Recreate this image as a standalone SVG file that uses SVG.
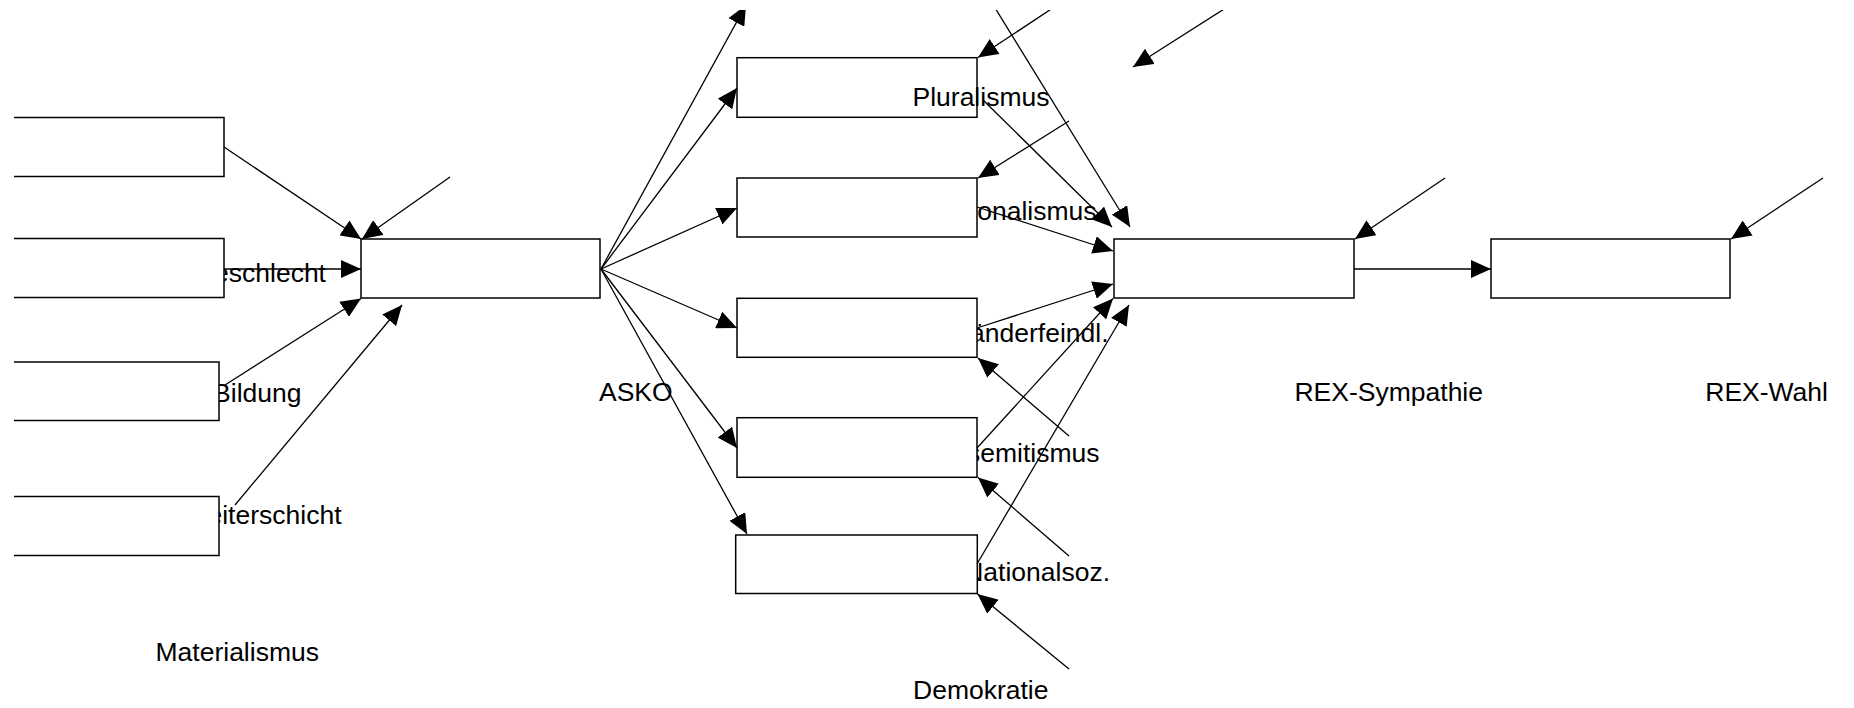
<svg xmlns="http://www.w3.org/2000/svg" width="1854" height="708" viewBox="0 0 1854 708">
  <style>
    .box { fill: #ffffff; stroke: #000000; stroke-width: 1.5; }
    .lbl { font-family: "Liberation Sans", Arial, sans-serif; font-size: 26.5px; fill: #000000; }
    .end { text-anchor: end; }
    .con line { stroke: #000000; stroke-width: 1.3; fill: none; marker-end: url(#arr); }
  </style>
  <defs>
    <marker id="arr" markerUnits="userSpaceOnUse" markerWidth="20" markerHeight="18" refX="20" refY="9" orient="auto">
      <path d="M0,0 L20,9 L0,18 Z" fill="#000000"/>
    </marker>
    <clipPath id="clip">
      <rect x="14" y="10" width="1840" height="698"/>
    </clipPath>
  </defs>
  <rect width="1854" height="708" fill="#ffffff"/>
  <g clip-path="url(#clip)">
    <g id="node-materialismus">
      <rect class="box" x="-20" y="117.5" width="244" height="59"/>
      <text class="lbl" x="155.5" y="661">Materialismus</text>
    </g>
    <g id="node-geschlecht">
      <text class="lbl end" x="326" y="281.5">Geschlecht</text>
      <rect class="box" x="-20" y="238.5" width="244" height="59"/>
    </g>
    <g id="node-bildung">
      <text class="lbl end" x="301.5" y="401.5">Bildung</text>
      <rect class="box" x="-20" y="362" width="239" height="58.5"/>
    </g>
    <g id="node-arbeiterschicht">
      <text class="lbl end" x="341.5" y="523.5">Arbeiterschicht</text>
      <rect class="box" x="-20" y="496.5" width="239" height="59"/>
    </g>
    <g id="node-asko">
      <rect class="box" x="361" y="239" width="239" height="59"/>
      <text class="lbl" x="599" y="401">ASKO</text>
    </g>
    <g id="node-pluralismus">
      <rect class="box" x="737" y="57.7" width="240" height="59.6"/>
      <text class="lbl" x="912.5" y="105.5">Pluralismus</text>
    </g>
    <g id="node-nationalismus">
      <text class="lbl end" x="1096.5" y="220">Nationalismus</text>
      <rect class="box" x="737" y="178" width="240" height="59"/>
    </g>
    <g id="node-auslaenderfeindl">
      <text class="lbl end" x="1108.5" y="341.5">Ausländerfeindl.</text>
      <rect class="box" x="737" y="298.3" width="240" height="59"/>
    </g>
    <g id="node-antisemitismus">
      <text class="lbl end" x="1099.5" y="461.5">Antisemitismus</text>
      <rect class="box" x="737" y="417.7" width="240" height="59.6"/>
    </g>
    <g id="node-nationalsoz">
      <text class="lbl end" x="1110" y="581">Nationalsoz.</text>
      <rect class="box" x="735.7" y="535" width="241.6" height="58.5"/>
    </g>
    <g id="node-demokratie">
      <text class="lbl" x="913" y="698.5">Demokratie</text>
    </g>
    <g id="node-rex-sympathie">
      <rect class="box" x="1114" y="239" width="240" height="59"/>
      <text class="lbl end" x="1483" y="401">REX-Sympathie</text>
    </g>
    <g id="node-rex-wahl">
      <rect class="box" x="1491" y="239" width="239" height="59"/>
      <text class="lbl end" x="1828" y="401">REX-Wahl</text>
    </g>
    <g id="connectors" class="con">
      <line x1="224" y1="147" x2="361" y2="239"/>
      <line x1="450" y1="177" x2="362" y2="239"/>
      <line x1="224" y1="269" x2="361" y2="269"/>
      <line x1="225" y1="385" x2="361" y2="298.5"/>
      <line x1="235" y1="505" x2="402" y2="305"/>
      <line x1="601" y1="269" x2="746" y2="5"/>
      <line x1="601" y1="269" x2="737" y2="88"/>
      <line x1="601" y1="269" x2="737" y2="208"/>
      <line x1="601" y1="269" x2="737" y2="328"/>
      <line x1="601" y1="269" x2="737" y2="448"/>
      <line x1="601" y1="269" x2="747" y2="534"/>
      <line x1="1080" y1="-10" x2="978" y2="57.5"/>
      <line x1="1254" y1="-10" x2="1133" y2="67"/>
      <line x1="1069" y1="121" x2="978" y2="178"/>
      <line x1="1069" y1="436" x2="978" y2="358"/>
      <line x1="1069" y1="556" x2="978" y2="477.5"/>
      <line x1="1069" y1="669" x2="977.5" y2="594"/>
      <line x1="983" y1="100" x2="1112" y2="227"/>
      <line x1="984" y1="-10" x2="1130" y2="227"/>
      <line x1="977" y1="207" x2="1113" y2="251"/>
      <line x1="977" y1="328" x2="1113" y2="284"/>
      <line x1="977" y1="448" x2="1113" y2="298.5"/>
      <line x1="977" y1="564" x2="1129" y2="305"/>
      <line x1="1354" y1="269" x2="1491" y2="269"/>
      <line x1="1445" y1="178" x2="1355" y2="239"/>
      <line x1="1823" y1="178" x2="1731" y2="239"/>
    </g>
  </g>
</svg>
